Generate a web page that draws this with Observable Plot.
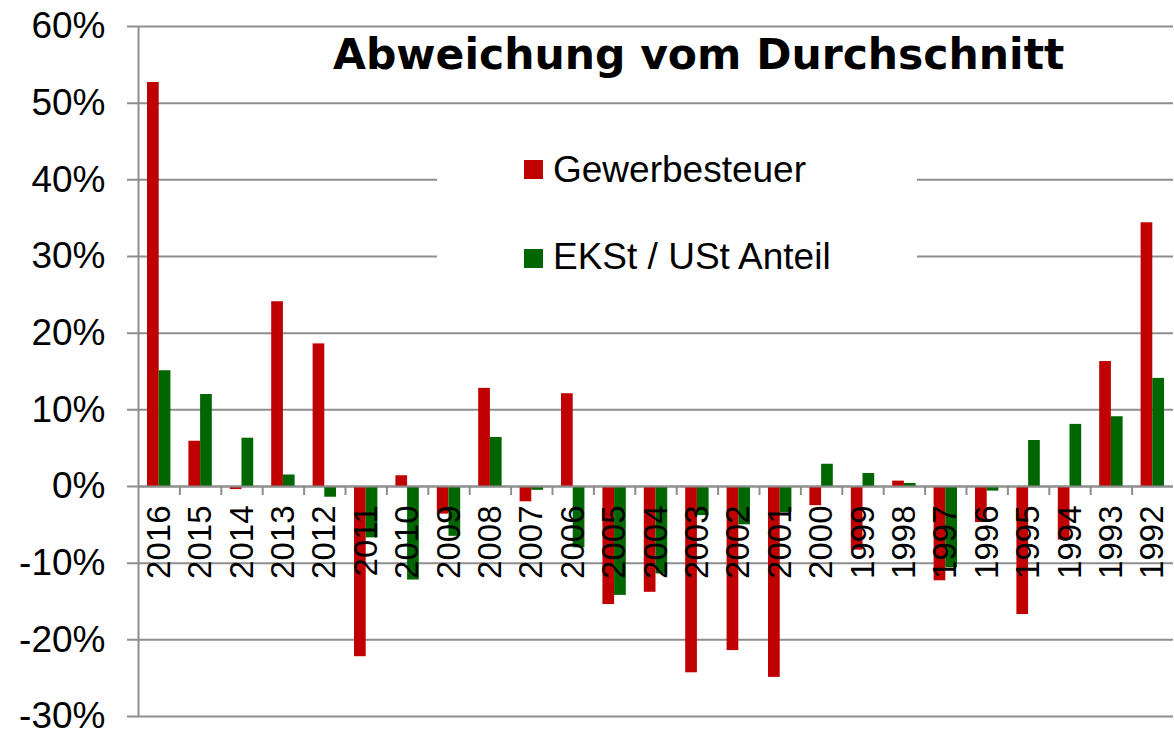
<!DOCTYPE html>
<html>
<head>
<meta charset="utf-8">
<script src="https://cdn.jsdelivr.net/npm/d3@7"></script>
<script src="https://cdn.jsdelivr.net/npm/@observablehq/plot@0.6"></script>
<style>
  html, body { margin: 0; padding: 0; background: #fff; }
  #wrap { position: relative; width: 1174px; height: 731px; overflow: hidden; }
  #title {
    position: absolute; left: 333px; top: 34px; white-space: nowrap;
    font-family: "DejaVu Sans", Verdana, sans-serif; font-weight: bold;
    font-size: 42.5px; line-height: 1; color: #000;
  }
  #legend {
    position: absolute; left: 437px; top: 112px; width: 480px; height: 210px;
    background: #fff;
  }
  .item {
    position: absolute; left: 87px; white-space: nowrap;
    font-family: "Liberation Sans", Arial, sans-serif; font-size: 37px; line-height: 1; color: #000;
  }
  .sw { position: absolute; width: 19px; height: 19px; left: 0; }
  .lbl { position: absolute; left: 29px; }
</style>
</head>
<body>
<div id="wrap"></div>
<script>
// ---- data ----
const years = ["2016","2015","2014","2013","2012","2011","2010","2009","2008","2007","2006","2005","2004",
               "2003","2002","2001","2000","1999","1998","1997","1996","1995","1994","1993","1992"];
const gewerbesteuer = [52.7, 5.9, -0.4, 24.1, 18.6, -22.2, 1.4, -3.6, 12.8, -2.0, 12.1, -15.4, -13.8,
                       -24.3, -21.4, -24.9, -2.5, -8.3, 0.7, -12.3, -4.7, -16.7, -7.0, 16.3, 34.4];
const ekstUstAnteil = [15.1, 12.0, 6.3, 1.5, -1.4, -6.7, -12.2, -6.5, 6.4, -0.5, -8.0, -14.2, -11.4,
                       -3.8, -5.0, -3.4, 2.9, 1.7, 0.4, -10.6, -0.6, 6.0, 8.1, 9.1, 14.1];
const yTicks = [-30, -20, -10, 0, 10, 20, 30, 40, 50, 60];
const seriesNames = ["Gewerbesteuer", "EKSt / USt Anteil"];
const seriesColors = ["#C00000", "#006600"];
const titleText = "Abweichung vom Durchschnitt";

// ---- layout ----
const W = 1174, H = 731, ML = 138, MR = 1, MT = 26, MB = 15;
const bw = (W - ML - MR) / years.length;
const barW = 11.7, outer = 9;
const gridColor = "#8e8e8e";

const rows = years.map((year, i) => ({year, g: gewerbesteuer[i], e: ekstUstAnteil[i]}));

const chart = Plot.plot({
  width: W, height: H,
  marginLeft: ML, marginRight: MR, marginTop: MT, marginBottom: MB,
  style: {fontFamily: '"Liberation Sans", Arial, sans-serif', background: "white", overflow: "visible", color: "black"},
  x: {type: "band", domain: years, padding: 0, round: false, axis: null},
  y: {domain: [-30, 60], axis: null},
  marks: [
    Plot.ruleY(yTicks, {y: d => d, stroke: gridColor, strokeWidth: 2, insetLeft: -11}),
    Plot.ruleX([years[0]], {x: d => d, dx: -bw / 2, stroke: gridColor, strokeWidth: 2}),
    Plot.barY(rows, {x: "year", y: "g", fill: seriesColors[0], insetLeft: outer, insetRight: bw - outer - barW}),
    Plot.barY(rows, {x: "year", y: "e", fill: seriesColors[1], insetLeft: outer + barW, insetRight: bw - outer - 2 * barW}),
    Plot.ruleY([0], {y: d => d, stroke: gridColor, strokeWidth: 2}),
    Plot.ruleX(years.slice(1), {x: d => d, y1: () => 0, y2: () => 0, dx: -bw / 2, insetBottom: -9, stroke: gridColor, strokeWidth: 2}),
    Plot.text(years, {x: d => d, y: () => 0, text: d => d, rotate: -90, textAnchor: "end", dy: 19, fontSize: 33, fill: "black"}),
    Plot.axisY({ticks: yTicks, tickFormat: d => d + "%", tickSize: 0, tickPadding: 33, fontSize: 37, fill: "black", label: null})
  ]
});

const wrap = document.getElementById("wrap");
wrap.appendChild(chart);

const title = document.createElement("div");
title.id = "title";
title.textContent = titleText;
wrap.appendChild(title);

const legend = document.createElement("div");
legend.id = "legend";
const itemTops = [39, 126];
const swTops = [9, 11];
seriesNames.forEach((name, i) => {
  const item = document.createElement("div");
  item.className = "item";
  item.style.top = itemTops[i] + "px";
  const sw = document.createElement("span");
  sw.className = "sw";
  sw.style.background = seriesColors[i];
  sw.style.top = swTops[i] + "px";
  const lbl = document.createElement("span");
  lbl.className = "lbl";
  lbl.textContent = name;
  item.appendChild(sw);
  item.appendChild(lbl);
  legend.appendChild(item);
});
wrap.appendChild(legend);
</script>
</body>
</html>
